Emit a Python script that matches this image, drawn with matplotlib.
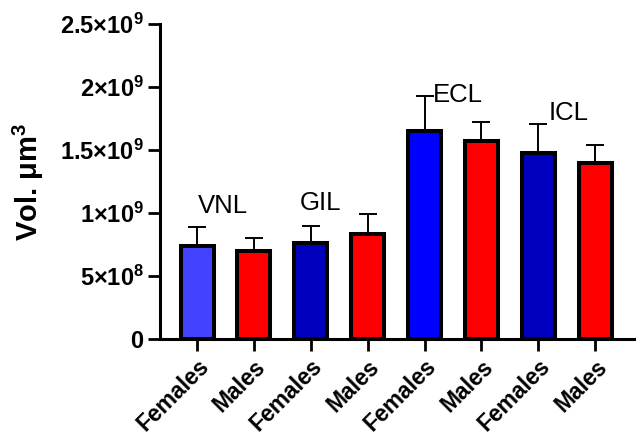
import numpy as np
import matplotlib
matplotlib.use("Agg")
from matplotlib import pyplot as plt
from matplotlib.ticker import FixedLocator, FixedFormatter

plt.rcParams['font.family'] = ['Liberation Sans', 'DejaVu Sans']
plt.rcParams['mathtext.fontset'] = 'custom'
plt.rcParams['mathtext.rm'] = 'Liberation Sans:bold'
plt.rcParams['mathtext.it'] = 'Liberation Sans:bold'
plt.rcParams['mathtext.bf'] = 'Liberation Sans:bold'

# data
groups = ['Females', 'Males', 'Females', 'Males', 'Females', 'Males', 'Females', 'Males']
means = [0.74e9, 0.70e9, 0.76e9, 0.83e9, 1.65e9, 1.57e9, 1.475e9, 1.40e9]
upper = [0.89e9, 0.80e9, 0.90e9, 0.99e9, 1.93e9, 1.72e9, 1.71e9, 1.54e9]
colors = ['#4343FF', '#FF0000', '#0000BE', '#FF0000', '#0000FF', '#FF0000', '#0000BE', '#FF0000']
regions = ['VNL', 'GIL', 'ECL', 'ICL']
region_pos = [(0.46, 1.054e9), (2.17, 1.08e9), (4.59, 1.94e9), (6.54, 1.79e9)]
yticks = [0, 0.5e9, 1.0e9, 1.5e9, 2.0e9, 2.5e9]
ytick_labels = [r'$\mathbf{0}$', r'$\mathbf{5{\times}10^{8}}$', r'$\mathbf{1{\times}10^{9}}$',
                r'$\mathbf{1.5{\times}10^{9}}$', r'$\mathbf{2{\times}10^{9}}$',
                r'$\mathbf{2.5{\times}10^{9}}$']

fig = plt.figure(figsize=(6.36, 4.40), dpi=100)
ax = fig.add_axes([0.2516, 0.2295, 0.747, 0.716])

x = np.arange(len(groups))
err = np.array(upper) - np.array(means)
ax.errorbar(x, means, yerr=[np.zeros_like(err), err], fmt='none', ecolor='black',
            elinewidth=1.4, capsize=6.5, capthick=1.4, zorder=1)
ax.bar(x, means, width=0.58, color=colors, edgecolor='black', linewidth=2.9, zorder=2)

for name, (px, py) in zip(regions, region_pos):
    ax.text(px, py, name, ha='center', va='center', fontsize=18.5)

ax.set_xlim(-0.65, 7.7)
ax.set_ylim(0, 2.5e9)
ax.yaxis.set_major_locator(FixedLocator(yticks))
ax.yaxis.set_major_formatter(FixedFormatter(ytick_labels))
ax.set_xticks(x)
ax.set_xticklabels(groups, rotation=45, ha='right', rotation_mode='anchor',
                   fontsize=16.5, fontweight='bold')
for lab in ax.get_yticklabels():
    lab.set_fontsize(17)

ax.set_ylabel(r'Vol. $\mathregular{\mu m^3}$', fontsize=21, fontweight='bold')
ax.yaxis.set_label_coords(-0.24, 0.5)

for side in ['top', 'right']:
    ax.spines[side].set_visible(False)
for side in ['left', 'bottom']:
    ax.spines[side].set_linewidth(2.2)
ax.tick_params(axis='both', width=2.0, length=8.5, direction='out')
ax.tick_params(axis='y', pad=3)
ax.tick_params(axis='x', pad=3)

fig.savefig('out.png', dpi=100)
